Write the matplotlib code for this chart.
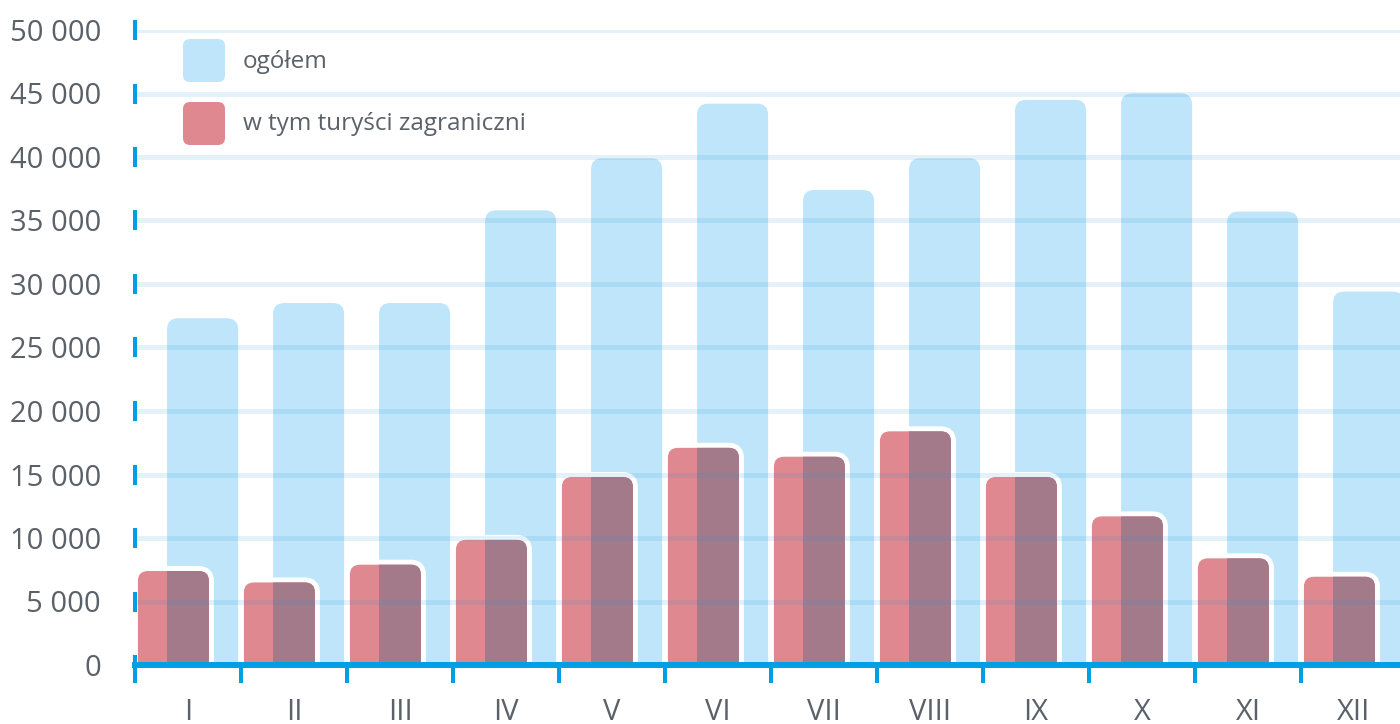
import matplotlib
matplotlib.use("Agg")
import matplotlib.pyplot as plt
from matplotlib.patches import FancyBboxPatch, Rectangle
import numpy as np

# dane: liczba turystów w miesiącach
miesiace = ["I", "II", "III", "IV", "V", "VI", "VII", "VIII", "IX", "X", "XI", "XII"]
ogolem = [27300, 28500, 28500, 35800, 39900, 44200, 37400, 39900, 44500, 45000, 35700, 29400]
zagraniczni = [7400, 6500, 7900, 9850, 14800, 17100, 16400, 18400, 14800, 11700, 8400, 6950]
etykiety = ["ogółem", "w tym turyści zagraniczni"]
y_ticks = list(range(0, 50001, 5000))

NIEBIESKI = "#BEE5FA"
CZERWONY = "#DF8890"
NAKLADKA = "#A37A8A"
OS = "#009FE3"
TEKST = "#5A6169"

plt.rcParams['font.family'] = ['Open Sans', 'DejaVu Sans']

fig = plt.figure(figsize=(14, 7.24), dpi=100)
ax = fig.add_axes([135 / 1400, 59 / 724, 1272 / 1400, 635 / 724])
n = len(miesiace)
ymax = 50000
ax.set_xlim(0, n)
ax.set_ylim(0, ymax)

# ile jednostek danych na piksel (do zaokrągleń)
px_x = n / 1272
px_y = ymax / 635
aspect = px_y / px_x


def slupek(x0, w, h, r_px, **kw):
    r = r_px * px_x
    dol = r_px * px_y
    return FancyBboxPatch((x0, -dol), w, h + dol,
                          boxstyle="round,pad=0,rounding_size=%f" % r,
                          mutation_aspect=aspect, **kw)


szer = 0.67
przes = 0.1375
for i in range(n):
    xb = i + 0.5 + przes - szer / 2
    xr = i + 0.5 - przes - szer / 2
    ax.add_patch(slupek(xb, szer, ogolem[i], 11, facecolor=NIEBIESKI,
                        edgecolor="none", zorder=1))
    ax.add_patch(slupek(xr, szer, zagraniczni[i], 10, facecolor="white",
                        edgecolor="white", linewidth=7.2, joinstyle="round",
                        zorder=1.2))
    ax.add_patch(slupek(xr, szer, zagraniczni[i], 10, facecolor=CZERWONY,
                        edgecolor="none", zorder=1.4))
    # część czerwonego słupka nachodząca na niebieski
    nak = slupek(xr, szer, zagraniczni[i], 10, facecolor=NAKLADKA,
                 edgecolor="none", zorder=1.6)
    ax.add_patch(nak)
    nak.set_clip_path(Rectangle((xb, 0), szer, ymax, transform=ax.transData))

# linie siatki nad słupkami
for v in y_ticks[1:]:
    ax.axhline(v, color=(40 / 255, 140 / 255, 210 / 255), alpha=0.12,
               linewidth=3.6, zorder=3, xmin=2 / 1272)

for s in ["left", "top", "right"]:
    ax.spines[s].set_visible(False)
ax.spines["bottom"].set_color(OS)
ax.spines["bottom"].set_linewidth(4.3)
ax.spines["bottom"].set_zorder(2.6)
ax.set_axisbelow(False)

# pionowe kreski na osi Y
ax.plot(np.zeros(len(y_ticks)), y_ticks, linestyle="none", marker="|",
        markersize=15, markeredgewidth=2.9, color=OS, clip_on=False,
        zorder=2.7)

ax.set_yticks(y_ticks)
ax.set_yticklabels([f"{v:,}".replace(",", " ") for v in y_ticks])
ax.tick_params(axis="y", length=0, pad=24.5, labelsize=21,
               labelcolor=TEKST)

ax.set_xticks(np.arange(n) + 0.5)
ax.set_xticklabels(miesiace)
ax.set_xticks(np.arange(n + 1), minor=True)
ax.tick_params(axis="x", which="major", length=0, pad=24, labelsize=21,
               labelcolor=TEKST)
ax.tick_params(axis="x", which="minor", direction="out", length=13,
               width=2.9, color=OS)

# legenda
kolory = [NIEBIESKI, CZERWONY]
for k, (etk, kol) in enumerate(zip(etykiety, kolory)):
    gora = 6.85 - k * 0.63
    fig.patches.append(FancyBboxPatch((1.83, gora - 0.43), 0.42, 0.43,
                                      boxstyle="round,pad=0,rounding_size=0.07",
                                      facecolor=kol, edgecolor="none",
                                      transform=fig.dpi_scale_trans,
                                      figure=fig))
    fig.text(2.43, 6.56 - k * 0.62, etk, transform=fig.dpi_scale_trans,
             fontsize=17.5, color=TEKST, va="baseline", ha="left")

fig.savefig("out.png", dpi=100)
